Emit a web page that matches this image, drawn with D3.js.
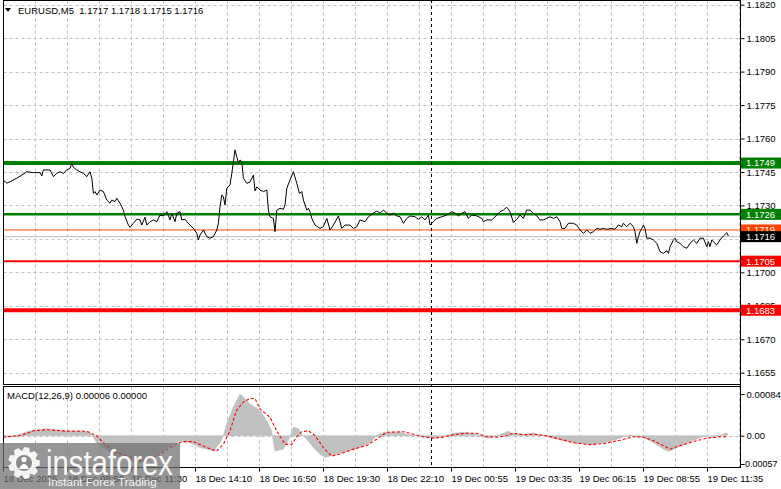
<!DOCTYPE html>
<html><head><meta charset="utf-8">
<script src="https://cdn.jsdelivr.net/npm/d3@7"></script>
<style>
body{margin:0;background:#fff;}
svg{display:block;}
text{font-family:"Liberation Sans",Arial,sans-serif;}
</style>
</head><body>
<svg id="c" width="781" height="489"></svg>
<script>
// ---------------- DATA ----------------
const symbolTitle = "EURUSD,M5  1.1717 1.1718 1.1715 1.1716";
const macdTitle = "MACD(12,26,9) 0.00006 0.00000";

// price line: bar index (5-minute bars from the first visible bar) and close value
const priceBars = [0,1.9,3.5,6.9,9.4,11.9,15.2,18.5,19.4,20.2,23.5,25.2,26.9,28.5,30.2,31.9,33.5,34.4,35.2,36.9,38.5,40.2,41.9,43.5,44.4,45.2,46,46.9,48.5,50.2,51.9,53.5,54.4,56,56.9,58.5,60.2,61,62.7,63.5,65.2,66.9,68.5,69.4,71,71.9,73.5,75.2,76.9,78.5,80.2,81.9,83.5,84.4,86,86.9,88.5,89.4,91,91.9,93.5,95.2,96.9,97.7,98.5,100.2,101.9,103.5,105.2,106.9,107.7,108.5,109.4,110.2,111,111.9,113.5,114.4,115.2,116,116.9,117.7,118.5,119.4,120.2,121.9,123.5,125.2,126,126.9,128.5,130.2,131.9,132.7,133.5,135.2,136,136.9,138.5,140.2,141,141.9,143.5,145.2,146.9,148.2,149.4,150.2,151.9,152.7,153.5,154.4,156,158.5,160.2,161.9,163.5,165.2,167.7,169.4,171,173.5,175.2,176.9,178.5,181,182.7,185.2,186.9,188.5,190.2,191.9,193.5,195.2,196.9,198.5,200.2,201.9,203.5,206,207.7,209.4,211,212.7,213.5,215.2,216.9,219.4,221.9,224.4,226,227.7,229.4,231,232.7,234.4,236.9,239.4,240.2,241.9,244.4,246.9,248.5,250.2,251.9,253.5,255.2,256.9,258.5,260.2,261.9,263.5,265.2,266.9,268.5,270.2,271.9,273.5,275.2,276.9,278.5,279.4,281,282.7,285.2,286.9,288.5,290.2,291.9,293.5,295.2,296.9,298.5,300.2,301.9,304.4,306,307.7,309.4,310.2,311.9,313.5,315.2,316,316.9,317.7,318.5,319.4,320.2,321,321.9,323.5,325.2,326.9,328.5,330.2,331.9,332.7,333.5,335.2,336,336.9,338.5,340.2,341.9,343.5,345.2,346.9,348.5,350.2,351.9,352.7,353.5,354.4,355.2,356.9,358.5,360.2,361.9,362.7];
const priceValues = [1.17414,1.17400,1.17406,1.17422,1.17436,1.17451,1.17447,1.17447,1.17432,1.17459,1.17459,1.17429,1.17444,1.17451,1.17444,1.17459,1.17466,1.17489,1.17471,1.17459,1.17451,1.17444,1.17429,1.17451,1.17422,1.17354,1.17362,1.17347,1.17369,1.17362,1.17324,1.17310,1.17324,1.17317,1.17332,1.17310,1.17279,1.17249,1.17212,1.17202,1.17220,1.17238,1.17235,1.17212,1.17247,1.17212,1.17227,1.17235,1.17227,1.17257,1.17253,1.17272,1.17235,1.17265,1.17227,1.17265,1.17272,1.17235,1.17238,1.17227,1.17212,1.17197,1.17175,1.17145,1.17167,1.17190,1.17160,1.17153,1.17160,1.17190,1.17220,1.17294,1.17347,1.17339,1.17302,1.17377,1.17392,1.17444,1.17496,1.17549,1.17518,1.17489,1.17504,1.17496,1.17422,1.17399,1.17405,1.17436,1.17365,1.17383,1.17369,1.17362,1.17369,1.17279,1.17249,1.17242,1.17182,1.17279,1.17287,1.17283,1.17302,1.17377,1.17414,1.17451,1.17399,1.17354,1.17362,1.17324,1.17279,1.17287,1.17272,1.17242,1.17212,1.17197,1.17205,1.17242,1.17190,1.17212,1.17253,1.17197,1.17212,1.17212,1.17197,1.17205,1.17235,1.17227,1.17249,1.17265,1.17275,1.17265,1.17279,1.17265,1.17257,1.17265,1.17253,1.17249,1.17220,1.17242,1.17253,1.17249,1.17238,1.17249,1.17235,1.17257,1.17212,1.17227,1.17242,1.17249,1.17257,1.17272,1.17265,1.17253,1.17265,1.17272,1.17242,1.17257,1.17253,1.17242,1.17227,1.17235,1.17235,1.17257,1.17272,1.17279,1.17292,1.17272,1.17223,1.17238,1.17257,1.17242,1.17279,1.17279,1.17265,1.17253,1.17235,1.17235,1.17242,1.17249,1.17242,1.17249,1.17227,1.17197,1.17197,1.17220,1.17220,1.17212,1.17190,1.17175,1.17190,1.17175,1.17182,1.17197,1.17193,1.17197,1.17193,1.17197,1.17193,1.17212,1.17205,1.17220,1.17205,1.17220,1.17205,1.17182,1.17130,1.17160,1.17182,1.17197,1.17212,1.17197,1.17153,1.17153,1.17145,1.17130,1.17093,1.17085,1.17097,1.17085,1.17115,1.17145,1.17153,1.17137,1.17130,1.17115,1.17108,1.17130,1.17145,1.17130,1.17153,1.17153,1.17115,1.17137,1.17115,1.17145,1.17137,1.17123,1.17145,1.17163,1.17178,1.17163];

const priceTicks = [1.1820,1.1805,1.1790,1.1775,1.1760,1.1745,1.1730,1.1715,1.1700,1.1685,1.1670,1.1655];
const levelValues = [1.1749,1.1726,1.1719,1.1716,1.1705,1.1683];
const levelLabels = ["1.1749","1.1726","1.1719","1.1716","1.1705","1.1683"];

const timeBars = [0,32,64,96,128,160,192,224,256,288,320,352];
const timeLabels = ["18 Dec 2025","18 Dec 08:50","18 Dec 11:30","18 Dec 14:10","18 Dec 16:50","18 Dec 19:30","18 Dec 22:10","19 Dec 00:55","19 Dec 03:35","19 Dec 06:15","19 Dec 08:55","19 Dec 11:35"];
const gridBars = [16,32,48,64,80,96,112,128,144,160,176,192,208,224,240,256,272,288,304,320,336,352,368];
const cursorBar = 214;

const macdHistBars = [0,3.5,8.5,13.5,21.8,31.8,38.5,43.5,46.8,50.2,53.5,56.8,61.8,65.2,68.5,73.5,78.5,83.5,88.5,93.5,98.5,101.8,105.2,108.5,110.2,111.8,115.2,118.5,120.2,123.5,128.5,131.8,134.3,136,140.2,143.5,145.2,147.7,149.3,151.8,155.2,158.5,161,163.5,166.8,171.8,178.5,183.5,186.8,190.2,193.5,198.5,201.8,206.8,210.2,215.2,220.2,225.2,230.2,235.2,240.2,243.5,248.5,252.7,255.2,260.2,265.2,270.2,275.2,280.2,286.8,293.5,300.2,306.8,313.5,316.8,320.2,325.2,330.2,332.7,336.8,340.2,345.2,350.2,353.5,358.5,361,362.2];
const macdHistValues = [-0.00003,-0.00002,0.00003,0.00010,0.00014,0.00010,0.00010,0.00007,-0.00014,-0.00024,-0.00034,-0.00041,-0.00047,-0.00051,-0.00054,-0.00047,-0.00034,-0.00020,-0.00010,-0.00014,-0.00024,-0.00027,-0.00031,-0.00014,0,0.00024,0.00058,0.00084,0.00078,0.00064,0.00051,0.00031,0.00010,-0.00031,-0.00027,-0.00003,0.00017,0.00014,0.00003,-0.00007,-0.00024,-0.00037,-0.00044,-0.00041,-0.00037,-0.00032,-0.00024,-0.00014,0,0.00007,0.00007,0.00007,0.00003,0,-0.00003,-0.00005,-0.00002,0.00005,0.00007,0.00005,-0.00003,-0.00005,0.00002,0.00009,0.00003,0.00002,0.00005,0,-0.00005,-0.00010,-0.00014,-0.00018,-0.00014,-0.00007,0.00002,-0.00002,-0.00003,-0.00014,-0.00027,-0.00032,-0.00024,-0.00018,-0.00009,-0.00002,-0.00001,0,0.00005,0.00005];

const macdSignalBars = [0,8.5,15.2,21.8,31.8,41.8,46.8,50.2,55.2,61.8,68.5,76.8,83.5,89.3,95.2,101.8,106.8,110.2,113.5,116.8,120.2,123.5,126,128.5,133.5,136.8,141,144.3,146.8,149.3,152.7,156,160.2,164.3,168.5,175.2,181.8,186.8,191.8,193.5,200.2,205.2,210.2,215.2,220.2,225.2,231.8,236.8,241.8,246.8,251.8,255.2,260.2,265.2,271.8,278.5,285.2,293.5,300.2,308.5,315.2,320.2,325.2,330.2,333.5,338.5,345.2,351.8,358.5,361.8];
const macdSignalValues = [-0.00003,0,0.00010,0.00012,0.00009,0.00009,0,-0.00014,-0.00031,-0.00041,-0.00051,-0.00041,-0.00024,-0.00012,-0.00012,-0.00024,-0.00031,-0.00017,0.00010,0.00051,0.00068,0.00075,0.00075,0.00054,0.00037,0.00010,-0.00017,-0.00018,-0.00003,0.00008,0.00010,0,-0.00024,-0.00041,-0.00037,-0.00027,-0.00020,-0.00007,0.00007,0.00007,0.00008,0.00003,-0.00002,-0.00005,-0.00003,0.00002,0.00005,0.00005,-0.00002,-0.00003,0,0.00005,0.00002,0.00003,0,-0.00007,-0.00014,-0.00018,-0.00016,-0.00009,-0.00002,-0.00003,-0.00010,-0.00020,-0.00027,-0.00020,-0.00012,-0.00005,-0.00002,-0.00002];
const macdTicks = [0.00084,0,-0.00057];
const macdTickLabels = ["0.00084","0.00","-0.00057"];

// ---------------- STYLES / LAYOUT ----------------
const levelStyle = [
  {color:"#008000", width:4, box:"#008000", text:"#fff"},
  {color:"#008000", width:2.5, box:"#008000", text:"#fff"},
  {color:"#ff4500", width:1, box:"#ff4500", text:"#fff"},
  {color:"#c0c0c0", width:1, box:"#000000", text:"#fff"},
  {color:"#ff0000", width:2, box:"#ff0000", text:"#fff"},
  {color:"#ff0000", width:4, box:"#ff0000", text:"#fff"}
];
const L = 3.5, R = 740.5;
const mainTop = 0.5, mainBot = 385.5;
const macdTop = 386.5, macdBot = 467.5;
const FS = "9.5px";

const svg = d3.select("#c");
const x = d3.scaleLinear().domain([0, 368.5]).range([3, 740]);
const yP = d3.scaleLinear().domain([1.1655, 1.1820]).range([372.7, 4.7]);
const yM = d3.scaleLinear().domain([-0.00057, 0.00084]).range([464, 394]);

svg.append("rect").attr("width",781).attr("height",489).attr("fill","#fff");

// grid main
const grid = svg.append("g").attr("stroke","#c0c0c0").attr("stroke-dasharray","3,3").attr("stroke-width",1);
grid.selectAll(".hg").data(priceTicks).join("line")
  .attr("x1",L).attr("x2",R)
  .attr("y1",d=>Math.round(yP(d))+0.5).attr("y2",d=>Math.round(yP(d))+0.5);
grid.selectAll(".vg").data(gridBars).join("line")
  .attr("x1",d=>Math.round(x(d))+0.5).attr("x2",d=>Math.round(x(d))+0.5)
  .attr("y1",mainTop).attr("y2",mainBot);
const grid2 = svg.append("g").attr("stroke","#c0c0c0").attr("stroke-dasharray","3,3");
grid2.selectAll("line.v").data(gridBars).join("line")
  .attr("x1",d=>Math.round(x(d))+0.5).attr("x2",d=>Math.round(x(d))+0.5)
  .attr("y1",macdTop).attr("y2",macdBot);
grid2.append("line").attr("x1",L).attr("x2",R)
  .attr("y1",Math.round(yM(0))+0.5).attr("y2",Math.round(yM(0))+0.5);

// level lines
svg.append("g").selectAll("line").data(levelValues).join("line")
  .attr("x1",L).attr("x2",R)
  .attr("y1",d=>yP(d)).attr("y2",d=>yP(d))
  .attr("stroke",(d,i)=>levelStyle[i].color)
  .attr("stroke-width",(d,i)=>levelStyle[i].width);

// price line
const pts = priceBars.map((b,i)=>[b, priceValues[i]]);
svg.append("path").datum(pts)
  .attr("fill","none").attr("stroke","#000").attr("stroke-width",1)
  .attr("d", d3.line().x(d=>x(d[0])).y(d=>yP(d[1])));

// MACD histogram
const hist = macdHistBars.map((b,i)=>[b, macdHistValues[i]]);
svg.append("path").datum(hist)
  .attr("fill","#c0c0c0").attr("stroke","#c0c0c0").attr("stroke-width",0.6)
  .attr("d", d3.area().x(d=>x(d[0])).y0(yM(0)).y1(d=>yM(d[1])));
// MACD signal
const sig = macdSignalBars.map((b,i)=>[b, macdSignalValues[i]]);
svg.append("path").datum(sig)
  .attr("fill","none").attr("stroke","#ff0000").attr("stroke-width",1.1)
  .attr("stroke-dasharray","3,2")
  .attr("d", d3.line().x(d=>x(d[0])).y(d=>yM(d[1])));

// cursor / separator line
svg.append("line")
  .attr("x1",Math.round(x(cursorBar))+0.5).attr("x2",Math.round(x(cursorBar))+0.5)
  .attr("y1",0).attr("y2",macdBot)
  .attr("stroke","#000").attr("stroke-dasharray","3,3");

// frames
svg.append("rect").attr("x",L).attr("y",mainTop).attr("width",R-L).attr("height",mainBot-mainTop-1)
  .attr("fill","none").attr("stroke","#000");
svg.append("rect").attr("x",L).attr("y",macdTop).attr("width",R-L).attr("height",macdBot-macdTop)
  .attr("fill","none").attr("stroke","#000");

// right price axis
const ax = svg.append("g").attr("transform",`translate(${R},0)`)
  .call(d3.axisRight(yP).tickValues(priceTicks).tickFormat(d3.format(".4f")).tickSize(4).tickPadding(2));
ax.select(".domain").remove();
ax.selectAll("text").attr("font-size",FS).attr("fill","#000").attr("font-family","Liberation Sans, Arial, sans-serif");

// level boxes
const lb = svg.append("g").selectAll("g").data(levelValues).join("g")
  .attr("transform",d=>`translate(741,${yP(d)})`);
lb.append("rect").attr("x",0).attr("y",-5.5).attr("width",40).attr("height",11)
  .attr("fill",(d,i)=>levelStyle[i].box);
lb.append("text").attr("x",5).attr("y",0).attr("dy","0.35em")
  .attr("font-size",FS).attr("fill",(d,i)=>levelStyle[i].text)
  .text((d,i)=>levelLabels[i]);

// MACD axis
const am = svg.append("g").attr("transform",`translate(${R},0)`)
  .call(d3.axisRight(yM).tickValues(macdTicks).tickFormat((d,i)=>macdTickLabels[i]).tickSize(4).tickPadding(2));
am.select(".domain").remove();
am.selectAll("text").attr("font-size",FS).attr("fill","#000").attr("font-family","Liberation Sans, Arial, sans-serif");
// negative label sits flush against the axis, as in the terminal
am.selectAll("text").filter(d=>d<0).attr("x",1.5).attr("font-size","9px");
svg.append("line").attr("x1",R).attr("x2",R).attr("y1",0).attr("y2",macdBot).attr("stroke","#000");

// time axis
const at = svg.append("g").attr("transform",`translate(0,${macdBot})`)
  .call(d3.axisBottom(x).tickValues(timeBars).tickFormat((d,i)=>timeLabels[i]).tickSize(4));
at.select(".domain").remove();
at.selectAll("text").attr("font-size",FS).attr("fill","#000").attr("text-anchor","start")
  .attr("x",0).attr("y",14).attr("dy",0).attr("font-family","Liberation Sans, Arial, sans-serif");

// titles
svg.append("path").attr("d","M5,8 L11,8 L8,12 Z").attr("fill","#000");
svg.append("text").attr("x",18).attr("y",14).attr("font-size",FS).attr("xml:space","preserve")
  .style("white-space","pre").text(symbolTitle);
svg.append("text").attr("x",7).attr("y",399).attr("font-size",FS).text(macdTitle);

// watermark
const wm = svg.append("g");
wm.append("rect").attr("x",0).attr("y",443).attr("width",180).attr("height",46)
  .attr("fill","#6e6e6e").attr("opacity",0.72);
const gear = [];
const cx = 24, cy = 463, rO = 16, rI = 12.5, n = 9;
for (let k = 0; k < n; k++) {
  const a0 = (k / n) * 2 * Math.PI;
  const w = Math.PI / n;
  gear.push([cx + rI*Math.cos(a0 - w*0.9), cy + rI*Math.sin(a0 - w*0.9)]);
  gear.push([cx + rO*Math.cos(a0 - w*0.45), cy + rO*Math.sin(a0 - w*0.45)]);
  gear.push([cx + rO*Math.cos(a0 + w*0.45), cy + rO*Math.sin(a0 + w*0.45)]);
  gear.push([cx + rI*Math.cos(a0 + w*0.9), cy + rI*Math.sin(a0 + w*0.9)]);
}
wm.append("path").attr("d", d3.line()(gear) + "Z").attr("fill","#fff").attr("opacity",0.9);
wm.append("circle").attr("cx",cx).attr("cy",cy).attr("r",8).attr("fill","#8a8a8a");
wm.append("circle").attr("cx",cx).attr("cy",cy-3.5).attr("r",2.6).attr("fill","#fff");
wm.append("path").attr("d",`M${cx-5},${cy+6} Q${cx},${cy-4} ${cx+5},${cy+6} Z`).attr("fill","#fff");
wm.append("text").attr("x",46).attr("y",475).attr("font-size","35px").attr("fill","#fff")
  .attr("font-family","Open Sans, Liberation Sans, sans-serif").attr("font-weight",300)
  .attr("textLength",127).attr("lengthAdjust","spacingAndGlyphs").attr("opacity",0.95).text("instaforex");
wm.append("text").attr("x",48).attr("y",486).attr("font-size","11.5px").attr("fill","#fff")
  .attr("opacity",0.9).text("Instant Forex Trading");
</script>
</body></html>
